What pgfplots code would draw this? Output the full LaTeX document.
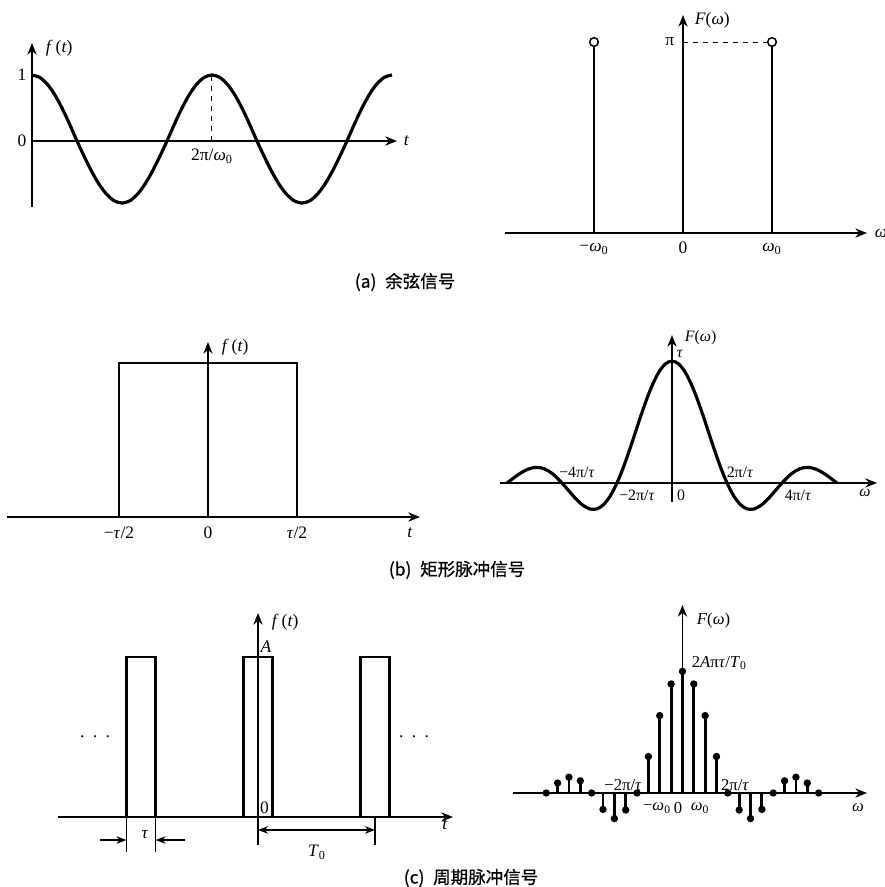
\documentclass[border=0pt]{standalone}
\usepackage{fontspec}
\setmainfont{Liberation Serif}
\newfontfamily\cjk[FakeBold=0.8]{Noto Sans CJK SC}
\usepackage{pgfplots}
\pgfplotsset{compat=1.18}
\usetikzlibrary{arrows.meta}
\pgfplotsset{
  sig/.style={
    scale only axis, axis lines=middle, ticks=none,
    clip=false, anchor=south west,
    axis line style={line width=0.9pt},
    inner axis line style={-{Stealth[length=7pt,width=5.5pt]}},
  }
}
\newcommand\figcap[1]{{\cjk\fontsize{10.5}{12}\selectfont #1}}
\begin{document}
\begin{tikzpicture}[x=0.6pt,y=0.6pt,font=\fontsize{10.5}{12}\selectfont]
\path[use as bounding box] (0,0) rectangle (885,887);

% ---------- (a) left: cosine ----------
\begin{axis}[sig, at={(19.2pt,408pt)}, width=219pt, height=98.4pt,
  xmin=0, xmax=2.028, ymin=-1.0, ymax=1.485]
\addplot[line width=1.9pt, smooth, black] coordinates {
(0,1)(0.0417,0.9659)(0.0833,0.866)(0.125,0.7071)(0.1667,0.5)(0.2083,0.2588)(0.25,0)
(0.2917,-0.2433)(0.3333,-0.47)(0.375,-0.6647)(0.4167,-0.8141)(0.4583,-0.908)(0.5,-0.94)
(0.5417,-0.908)(0.5833,-0.8141)(0.625,-0.6647)(0.6667,-0.47)(0.7083,-0.2433)(0.75,0)
(0.7917,0.2588)(0.8333,0.5)(0.875,0.7071)(0.9167,0.866)(0.9583,0.9659)(1,1)
(1.0417,0.9659)(1.0833,0.866)(1.125,0.7071)(1.1667,0.5)(1.2083,0.2588)(1.25,0)
(1.2917,-0.2433)(1.3333,-0.47)(1.375,-0.6647)(1.4167,-0.8141)(1.4583,-0.908)(1.5,-0.94)
(1.5417,-0.908)(1.5833,-0.8141)(1.625,-0.6647)(1.6667,-0.47)(1.7083,-0.2433)(1.75,0)
(1.7917,0.2588)(1.8333,0.5)(1.875,0.7071)(1.9167,0.866)(1.9583,0.9659)(2,1)};
\draw[dashed, line width=0.6pt] (axis cs:1,0) -- (axis cs:1,1);
\end{axis}

% ---------- (a) right: spectrum of cosine ----------
\begin{axis}[sig, at={(303pt,392.4pt)}, width=217.2pt, height=130.8pt,
  xmin=-2.0, xmax=2.067, ymin=0, ymax=3.586]
\draw[dashed, line width=0.6pt] (axis cs:0,3.1416) -- (axis cs:1,3.1416);
\addplot[ycomb, black, line width=1.1pt, mark=*, mark size=2.6pt,
  mark options={line width=0.9pt, fill=white}] coordinates {(-1,3.1416)(1,3.1416)};
\end{axis}

% ---------- (b) left: rectangular pulse ----------
\begin{axis}[sig, at={(4.2pt,222pt)}, width=247.8pt, height=105pt,
  xmin=-1.129, xmax=1.191, ymin=0, ymax=1.136]
\addplot[black, line width=1.7pt, line join=miter] coordinates {(-0.5,0)(-0.5,1)(0.5,1)(0.5,0)};
\end{axis}

% ---------- (b) right: sinc spectrum ----------
\begin{axis}[sig, at={(300pt,231pt)}, width=226.2pt, height=100.2pt,
  xmin=-3.127, xmax=3.727, ymin=-0.156, ymax=1.213]
\addplot[black, line width=1.9pt, smooth] coordinates {
(-3,0)(-2.875,0.0424)(-2.75,0.0819)(-2.625,0.112)(-2.5,0.1273)(-2.375,0.1238)(-2.25,0.1)(-2.125,0.0573)
(-2,0)(-1.875,-0.065)(-1.75,-0.1286)(-1.625,-0.181)(-1.5,-0.2122)(-1.375,-0.2139)(-1.25,-0.1801)(-1.125,-0.1083)
(-1,0)(-0.875,0.1392)(-0.75,0.3001)(-0.625,0.4705)(-0.5,0.6366)(-0.375,0.7842)(-0.25,0.9003)(-0.125,0.9745)
(0,1)(0.125,0.9745)(0.25,0.9003)(0.375,0.7842)(0.5,0.6366)(0.625,0.4705)(0.75,0.3001)(0.875,0.1392)
(1,0)(1.125,-0.1083)(1.25,-0.1801)(1.375,-0.2139)(1.5,-0.2122)(1.625,-0.181)(1.75,-0.1286)(1.875,-0.065)
(2,0)(2.125,0.0573)(2.25,0.1)(2.375,0.1238)(2.5,0.1273)(2.625,0.112)(2.75,0.0819)(2.875,0.0424)(3,0)};
\end{axis}

% ---------- (c) left: periodic pulses ----------
\begin{axis}[sig, at={(34.8pt,25.2pt)}, width=237pt, height=139.2pt,
  xmin=-6.838, xmax=6.667, ymin=-0.175, ymax=1.275]
\addplot[black, line width=1.5pt, line join=miter] coordinates {(-4.5,0)(-4.5,1)(-3.5,1)(-3.5,0)};
\addplot[black, line width=1.5pt, line join=miter] coordinates {(-0.5,0)(-0.5,1)(0.5,1)(0.5,0)};
\addplot[black, line width=1.5pt, line join=miter] coordinates {(3.5,0)(3.5,1)(4.5,1)(4.5,0)};
\draw[line width=0.8pt] (axis cs:-4.5,0) -- (axis cs:-4.5,-0.22);
\draw[line width=0.8pt] (axis cs:-3.5,0) -- (axis cs:-3.5,-0.22);
\draw[line width=0.8pt,-{Stealth[length=6pt,width=4.5pt]}] (axis cs:-5.4,-0.144) -- (axis cs:-4.5,-0.144);
\draw[line width=0.8pt,-{Stealth[length=6pt,width=4.5pt]}] (axis cs:-2.5,-0.144) -- (axis cs:-3.5,-0.144);
\draw[line width=0.8pt] (axis cs:4,-0.005) -- (axis cs:4,-0.175);
\draw[line width=0.8pt,{Stealth[length=6pt,width=4.5pt]}-{Stealth[length=6pt,width=4.5pt]}] (axis cs:0,-0.081) -- (axis cs:4,-0.081);
\end{axis}

% ---------- (c) right: line spectrum ----------
\begin{axis}[sig, at={(307.8pt,56.4pt)}, width=212.4pt, height=112.8pt,
  xmin=-14.93, xmax=16.26, ymin=0, ymax=1.545]
\addplot[ycomb, black, line width=1.7pt, mark=*, mark size=1.3pt] coordinates {
(-12,0)(-11,0.082)(-10,0.13)(-9,0.10)(-8,0)(-7,-0.135)(-6,-0.21)(-5,-0.14)(-4,0)
(-3,0.30)(-2,0.636)(-1,0.896)(0,1)(1,0.896)(2,0.636)(3,0.30)
(4,0)(5,-0.14)(6,-0.21)(7,-0.135)(8,0)(9,0.10)(10,0.13)(11,0.082)(12,0)};
\end{axis}

% ---------- labels ----------
% (a) left
\node at (22,812) {1};
\node at (22,746) {0};
\node[anchor=west] at (40,839) {\textit{f}\,(\textit{t})};
\node[anchor=west] at (398,746) {\textit{t}};
\node at (212,731) {2π/\textit{ω}\textsubscript{0}};
% (a) right
\node[anchor=east] at (680,845) {π};
\node[anchor=west] at (689,867) {\textit{F}(\textit{ω})};
\node at (594,638) {−\textit{ω}\textsubscript{0}};
\node at (683,639) {0};
\node at (772,638) {\textit{ω}\textsubscript{0}};
\node[anchor=west] at (869,654) {\textit{ω}};
\node at (405,605) {\figcap{(a)\enspace 余弦信号}};
% (b) left
\node[anchor=west] at (216,540) {\textit{f}\,(\textit{t})};
\node at (119,354) {−\textit{τ}/2};
\node at (208,354) {0};
\node at (297,354) {\textit{τ}/2};
\node at (410,354) {\textit{t}};
\node at (457,317) {\figcap{(b)\enspace 矩形脉冲信号}};
% (b) right
\begin{scope}[font=\fontsize{9.5}{11}\selectfont]
\node[anchor=west] at (679,549) {\textit{F}(\textit{ω})};
\node[anchor=west] at (671,533) {\textit{τ}};
\node at (577,415) {−4π/\textit{τ}};
\node at (740,415) {2π/\textit{τ}};
\node at (637,392) {−2π/\textit{τ}};
\node at (681,392) {0};
\node at (798,392) {4π/\textit{τ}};
\node at (865,394) {\textit{ω}};
\end{scope}
% (c) left
\node[anchor=west] at (266,265) {\textit{f}\,(\textit{t})};
\node at (266,240) {\textit{A}};
\node at (264.5,79) {0};
\node at (95,150) {.\hspace{5pt}.\hspace{5pt}.};
\node at (414,150) {.\hspace{5pt}.\hspace{5pt}.};
\node at (145,52) {\textit{τ}};
\node at (317,35) {\textit{T}\textsubscript{0}};
\node at (445,62) {\textit{t}};
\node at (471,9) {\figcap{(c)\enspace 周期脉冲信号}};
% (c) right
\begin{scope}[font=\fontsize{10}{11}\selectfont]
\node[anchor=west] at (691,267) {\textit{F}(\textit{ω})};
\node[anchor=west] at (686,224) {2\textit{A}π\textit{τ}/\textit{T}\textsubscript{0}};
\node at (623,102) {−2π/\textit{τ}};
\node at (735,102) {2π/\textit{τ}};
\node at (657,79) {−\textit{ω}\textsubscript{0}};
\node at (678,79) {0};
\node at (700,79) {\textit{ω}\textsubscript{0}};
\node at (858,79) {\textit{ω}};
\end{scope}
\end{tikzpicture}
\end{document}
